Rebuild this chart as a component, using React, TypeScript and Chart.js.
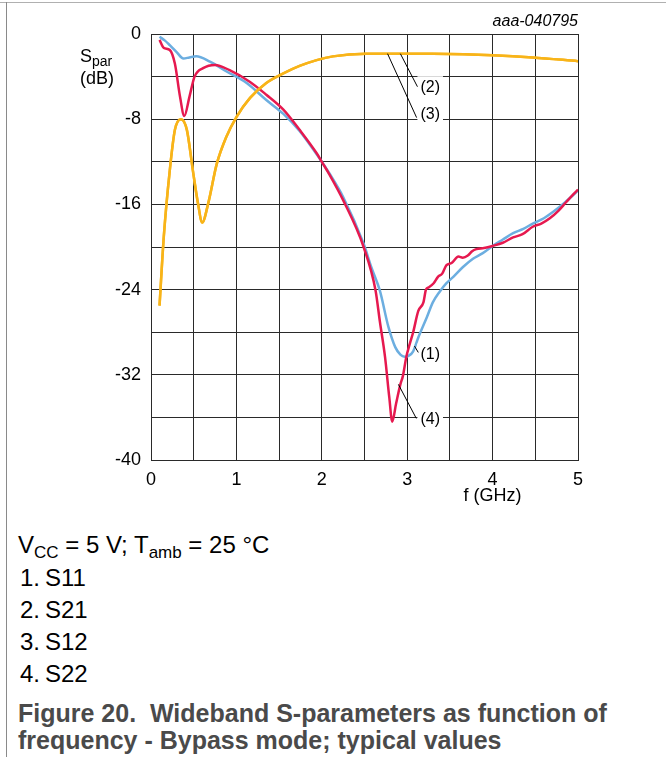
import React, { useEffect, useRef } from 'react';
import { Chart, registerables } from 'chart.js';

Chart.register(...registerables);

const FONT = '"Liberation Sans", Arial, Helvetica, sans-serif';

// Tick labels
const xTickLabels = [0, 1, 2, 3, 4, 5];
const yTickLabels = [0, -8, -16, -24, -32, -40];

// (1) S11
const s11Freq = [0.1, 0.16, 0.22, 0.3, 0.38, 0.45, 0.53, 0.69, 0.88, 1.12, 1.35, 1.55, 1.74, 1.94, 2.0, 2.09, 2.25, 2.49, 2.58, 2.68, 2.78, 2.86, 2.92, 2.97, 3.02, 3.07, 3.13, 3.23, 3.3, 3.38, 3.46, 3.54, 3.65, 3.77, 3.88, 4.0, 4.12, 4.24, 4.36, 4.47, 4.6, 4.71, 4.85, 5.0];
const s11Db = [-0.25, -0.6, -1.05, -1.7, -2.3, -2.2, -2.1, -2.6, -3.5, -4.6, -6.2, -7.5, -9.1, -11.3, -12.0, -13.1, -15.3, -19.7, -21.9, -24.1, -27.5, -29.4, -30.1, -30.3, -30.2, -29.8, -28.5, -26.6, -25.2, -24.2, -23.4, -22.8, -21.9, -21.1, -20.6, -19.9, -19.3, -18.7, -18.3, -17.8, -17.3, -16.7, -15.8, -14.7];

// (2) S21
const s21Freq = [0.1, 0.15, 0.22, 0.28, 0.35, 0.42, 0.49, 0.55, 0.6, 0.67, 0.77, 0.88, 1.0, 1.16, 1.35, 1.55, 1.74, 1.94, 2.13, 2.52, 3.0, 3.3, 4.0, 4.47, 5.0];
const s21Db = [-25.5, -19.0, -12.8, -9.0, -8.0, -9.0, -12.8, -15.9, -17.7, -15.9, -12.2, -9.7, -7.8, -6.0, -4.6, -3.7, -3.0, -2.45, -2.1, -1.86, -1.85, -1.86, -2.0, -2.2, -2.55];

// (3) S12
const s12Freq = [0.1, 0.15, 0.22, 0.28, 0.35, 0.42, 0.49, 0.55, 0.6, 0.67, 0.77, 0.88, 1.0, 1.16, 1.35, 1.55, 1.74, 1.94, 2.13, 2.52, 3.0, 3.3, 4.0, 4.47, 5.0];
const s12Db = [-25.5, -19.0, -12.8, -9.0, -8.0, -9.0, -12.8, -15.9, -17.7, -15.9, -12.2, -9.7, -7.8, -6.0, -4.6, -3.7, -3.0, -2.45, -2.1, -1.86, -1.85, -1.86, -2.0, -2.2, -2.55];

// (4) S22
const s22Freq = [0.1, 0.15, 0.22, 0.28, 0.34, 0.39, 0.45, 0.51, 0.61, 0.75, 0.92, 1.16, 1.35, 1.55, 1.74, 1.94, 2.0, 2.09, 2.25, 2.49, 2.63, 2.68, 2.74, 2.79, 2.825, 2.87, 2.92, 2.95, 2.99, 3.03, 3.07, 3.13, 3.19, 3.22, 3.25, 3.31, 3.36, 3.41, 3.46, 3.52, 3.6, 3.65, 3.71, 3.76, 3.81, 3.9, 4.0, 4.12, 4.24, 4.35, 4.47, 4.57, 4.67, 4.77, 4.86, 5.0];
const s22Db = [-0.55, -1.3, -1.5, -2.8, -5.9, -7.7, -5.9, -4.0, -3.2, -2.9, -3.4, -4.5, -5.7, -7.1, -9.0, -11.2, -12.0, -13.2, -15.6, -20.0, -24.1, -27.0, -30.3, -34.1, -36.4, -34.7, -32.9, -32.1, -30.3, -29.1, -28.0, -26.0, -25.2, -24.0, -23.8, -23.4, -22.8, -22.5, -21.7, -21.5, -20.9, -21.0, -20.8, -20.4, -20.2, -20.1, -19.9, -19.6, -19.1, -18.8, -18.1, -17.8, -17.3, -16.6, -15.8, -14.6];

const toPoints = (xs: number[], ys: number[]) => xs.map((x, i) => ({ x, y: ys[i] }));

const BLUE = '#6caee0';
const RED = '#e6194f';
const ORANGE = '#f8b419';

const overlayPlugin = {
  id: 'overlay',
  afterDatasetsDraw(chart: any) {
    const { ctx, scales } = chart;
    const xs = scales.x;
    const ys = scales.y;
    const px = (v: number) => xs.getPixelForValue(v);
    const py = (v: number) => ys.getPixelForValue(v);
    ctx.save();
    const notes = [
      { t: '(2)', fx: 2.92, fy: -1.85, tx: 3.12, ty: -4.95, lx: 3.155, ly: -4.9 },
      { t: '(3)', fx: 2.77, fy: -1.85, tx: 3.11, ty: -7.85, lx: 3.155, ly: -7.45 },
      { t: '(1)', fx: 3.085, fy: -29.3, tx: 3.13, ty: -29.9, lx: 3.155, ly: -30.0 },
      { t: '(4)', fx: 2.897, fy: -32.9, tx: 3.107, ty: -36.1, lx: 3.155, ly: -36.1 },
    ];
    ctx.font = `16px ${FONT}`;
    ctx.textBaseline = 'middle';
    ctx.textAlign = 'left';
    for (const n of notes) {
      const w = ctx.measureText(n.t).width;
      const lx = px(n.lx);
      const ly = py(n.ly);
      ctx.fillStyle = '#fff';
      ctx.fillRect(lx - 3, ly - 10, w + 6, 20);
      ctx.strokeStyle = '#000';
      ctx.lineWidth = 1;
      ctx.beginPath();
      ctx.moveTo(px(n.fx), py(n.fy));
      ctx.lineTo(px(n.tx), py(n.ty));
      ctx.stroke();
      ctx.fillStyle = '#000';
      ctx.fillText(n.t, lx, ly + 1);
    }
    // axis titles
    ctx.textBaseline = 'alphabetic';
    ctx.fillStyle = '#000';
    ctx.font = `18px ${FONT}`;
    ctx.textAlign = 'left';
    ctx.fillText('S', 80, 62);
    const sw = ctx.measureText('S').width;
    ctx.font = `14px ${FONT}`;
    ctx.fillText('par', 80 + sw, 66);
    ctx.font = `18px ${FONT}`;
    ctx.fillText('(dB)', 80, 84);
    ctx.textAlign = 'center';
    ctx.fillText('f (GHz)', px(4), chart.chartArea.bottom + 41);
    ctx.font = `italic 16px ${FONT}`;
    ctx.textAlign = 'right';
    ctx.fillText('aaa-040795', chart.chartArea.right, 26);
    ctx.restore();
  },
};

export default function App() {
  const ref = useRef<HTMLCanvasElement>(null);
  useEffect(() => {
    const canvas = ref.current!;
    const lineDs = (label: string, xs: number[], ys: number[], color: string, order: number) => ({
      label,
      data: toPoints(xs, ys),
      borderColor: color,
      backgroundColor: color,
      borderWidth: 2.5,
      pointRadius: 0,
      fill: false,
      cubicInterpolationMode: 'monotone' as const,
      order,
    });
    const chart = new Chart(canvas, {
      type: 'line',
      data: {
        datasets: [
          lineDs('S11', s11Freq, s11Db, BLUE, 4),
          lineDs('S21', s21Freq, s21Db, ORANGE, 1),
          lineDs('S12', s12Freq, s12Db, ORANGE, 2),
          lineDs('S22', s22Freq, s22Db, RED, 3),
        ],
      },
      options: {
        responsive: false,
        animation: false,
        devicePixelRatio: 1,
        layout: { padding: { left: 0, right: 88, top: 34, bottom: 0 } },
        plugins: { legend: { display: false }, tooltip: { enabled: false } },
        scales: {
          x: {
            type: 'linear',
            min: 0,
            max: 5,
            afterFit: (s: any) => { s.height = 50; },
            ticks: {
              stepSize: 0.5,
              autoSkip: false,
              maxRotation: 0,
              padding: 9,
              color: '#000',
              font: { family: FONT, size: 18 },
              callback: (v: any) => (xTickLabels.includes(Number(v)) ? String(v) : ''),
            },
            grid: { color: '#2a2a2a', lineWidth: 1, drawTicks: false },
            border: { color: '#2a2a2a', width: 1 },
          },
          y: {
            type: 'linear',
            min: -40,
            max: 0,
            afterFit: (s: any) => { s.width = 151; },
            ticks: {
              stepSize: 4,
              autoSkip: false,
              padding: 10,
              color: '#000',
              font: { family: FONT, size: 18 },
              callback: (v: any) => (yTickLabels.includes(Number(v)) ? String(v) : ''),
            },
            grid: { color: '#2a2a2a', lineWidth: 1, drawTicks: false },
            border: { color: '#2a2a2a', width: 1 },
          },
        },
      },
      plugins: [overlayPlugin],
    } as any);
    return () => chart.destroy();
  }, []);

  const body: React.CSSProperties = {
    position: 'absolute',
    fontFamily: FONT,
    fontSize: 24,
    lineHeight: '24px',
    color: '#000',
    whiteSpace: 'pre',
  };
  const sub: React.CSSProperties = { fontSize: 17, position: 'relative', top: 5 };
  const items = ['S11', 'S21', 'S12', 'S22'];
  return (
    <div style={{ position: 'absolute', left: 0, top: 0, width: 666, height: 757, background: '#fff', overflow: 'hidden' }}>
      <div style={{ position: 'absolute', left: 0, top: 2, width: 666, height: 1, background: '#b0b0b0' }} />
      <div style={{ position: 'absolute', left: 6, top: 2, width: 1, height: 755, background: '#8a8a8a' }} />
      <canvas ref={ref} width={666} height={510} style={{ position: 'absolute', left: 0, top: 0, width: 666, height: 510 }} />
      <div style={{ ...body, left: 18, top: 533 }}>
        V<span style={sub}>CC</span> = 5 V; T<span style={sub}>amb</span> = 25 °C
      </div>
      {items.map((s, i) => (
        <React.Fragment key={s}>
          <div style={{ ...body, left: 20, top: 566 + i * 32 }}>{`${i + 1}.`}</div>
          <div style={{ ...body, left: 45, top: 566 + i * 32 }}>{s}</div>
        </React.Fragment>
      ))}
      <div style={{ ...body, left: 18, top: 701, fontSize: 25, lineHeight: '25px', fontWeight: 'bold', color: '#4a4a4a' }}>
        {'Figure 20.  Wideband S-parameters as function of'}
      </div>
      <div style={{ ...body, left: 18, top: 728, fontSize: 25, lineHeight: '25px', fontWeight: 'bold', color: '#4a4a4a' }}>
        {'frequency - Bypass mode; typical values'}
      </div>
    </div>
  );
}
